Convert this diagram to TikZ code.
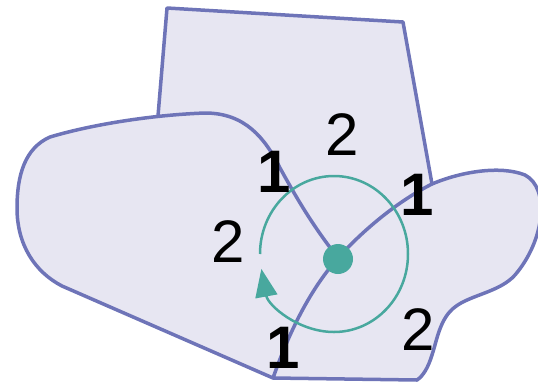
\documentclass[tikz,border=0pt]{standalone}
\usepackage{fontspec}
\setmainfont{Liberation Sans}
\usetikzlibrary{arrows.meta}
\definecolor{edgec}{RGB}{110,116,184}
\definecolor{facec}{RGB}{231,230,242}
\definecolor{tealc}{RGB}{72,168,158}
\begin{document}
\begin{tikzpicture}[x=1pt,y=-1pt,
  edgeline/.style={draw=edgec,line width=3.5pt,line join=round,line cap=round},
  lab/.style={font=\fontsize{60}{62}\selectfont,inner sep=0pt},
  blab/.style={font=\fontsize{60}{62}\selectfont\bfseries,inner sep=0pt},
  turn/.style={draw=tealc,line width=2.5pt}]
\useasboundingbox (0,0) rectangle (538,386);
% faces
\fill[facec] (158,116) -- (167,8) -- (403,22) -- (432,184) -- (338,258) -- cycle;
\fill[facec] (338,258) .. controls (310,222) and (295,195) .. (280,168)
  .. controls (265,138) and (245,113) .. (205,113)
  .. controls (150,115) and (90,125) .. (50,137)
  .. controls (25,148) and (17,175) .. (17,208)
  .. controls (17,245) and (35,272) .. (62,286)
  -- (273,378) .. controls (290,330) and (310,290) .. (338,258) -- cycle;
\fill[facec] (338,258) .. controls (365,228) and (400,200) .. (432,184)
  .. controls (460,172) and (500,165) .. (525,175)
  .. controls (550,188) and (545,240) .. (515,275)
  .. controls (500,292) and (470,295) .. (455,307)
  .. controls (440,318) and (437,340) .. (432,355)
  .. controls (428,368) and (423,376) .. (417,380)
  -- (273,378) .. controls (290,330) and (310,290) .. (338,258) -- cycle;
% outlines
\draw[edgeline] (158,116) -- (167,8) -- (403,22) -- (432,184);
\draw[edgeline] (338,258) .. controls (310,222) and (295,195) .. (280,168)
  .. controls (265,138) and (245,113) .. (205,113)
  .. controls (150,115) and (90,125) .. (50,137)
  .. controls (25,148) and (17,175) .. (17,208)
  .. controls (17,245) and (35,272) .. (62,286)
  -- (273,378) -- (417,380)
  .. controls (423,376) and (428,368) .. (432,355)
  .. controls (437,340) and (440,318) .. (455,307)
  .. controls (470,295) and (500,292) .. (515,275)
  .. controls (545,240) and (550,188) .. (525,175)
  .. controls (500,165) and (460,172) .. (432,184)
  .. controls (400,200) and (365,228) .. (338,258)
  .. controls (310,290) and (290,330) .. (273,378);
% turning arc
\coordinate (arcstart) at (260,254);
\draw[turn,-{Triangle[length=28pt,width=22pt]}] (arcstart)
  arc[start angle=180,end angle=-169,x radius=74pt,y radius=78pt];
\node[circle,fill=tealc,minimum size=30pt,inner sep=0pt] (vertex) at (338,259) {};
% labels
\node[lab] (t2) at (342,135) {2};
\node[blab] (tl1) at (274,172) {1};
\node[blab] (r1) at (417,195) {1};
\node[lab] (l2) at (228,242) {2};
\node[blab] (b1) at (283,348) {1};
\node[lab] (br2) at (418,330) {2};
\end{tikzpicture}
\end{document}
